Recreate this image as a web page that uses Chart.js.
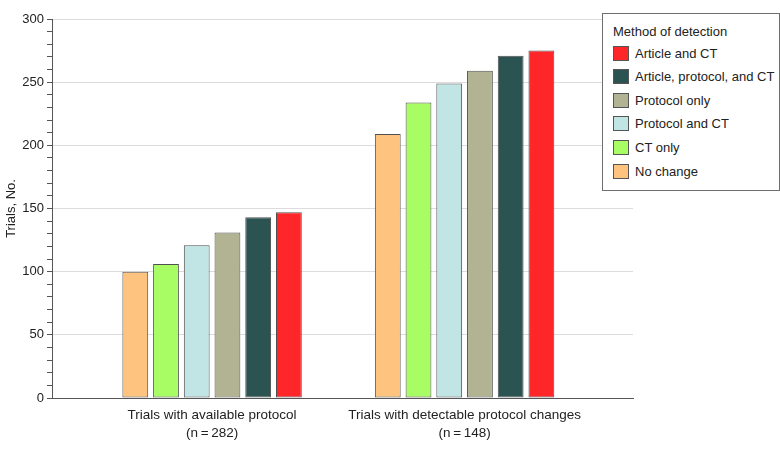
<!DOCTYPE html>
<html>
<head>
<meta charset="utf-8">
<script src="https://cdn.jsdelivr.net/npm/chart.js@4.4.1/dist/chart.umd.min.js"></script>
<style>
  html, body { margin: 0; padding: 0; background: #fff; }
  #wrap { position: relative; width: 780px; height: 450px; }
  #legend { position: absolute; left: 602px; top: 13px; width: 176px; height: 176px;
    border: 1px solid #6e6e6e; background: #fff; font-family: "Liberation Sans", Arial, sans-serif;
    font-size: 13px; color: #222; }
  #legend .title { position: absolute; left: 10px; top: 10px; line-height: 16px; white-space: nowrap; }
  #legend .row { position: absolute; left: 10px; height: 16px; white-space: nowrap; }
  #legend .sw { position: absolute; left: 0; top: 0; width: 14px; height: 13px; border: 1px solid #555; }
  #legend .lab { position: absolute; left: 22px; top: 0; line-height: 16px; }
</style>
</head>
<body>
<div id="wrap">
  <canvas id="c" width="780" height="450"></canvas>
  <div id="legend"></div>
</div>
<script>
// ---- Data ----
const categories = [
  ['Trials with available protocol', '(n\u2009=\u2009282)'],
  ['Trials with detectable protocol changes', '(n\u2009=\u2009148)']
];
const seriesNames = ['No change', 'CT only', 'Protocol and CT', 'Protocol only', 'Article, protocol, and CT', 'Article and CT'];
const noChange = [100, 209];
const ctOnly = [106, 234];
const protocolAndCT = [121, 249];
const protocolOnly = [131, 259];
const articleProtocolCT = [143, 271];
const articleAndCT = [147, 275];
const yTickLabels = [0, 50, 100, 150, 200, 250, 300];
const legendTitle = 'Method of detection';
const yTitle = 'Trials, No.';

// ---- Styles ----
const seriesColors = ['#FEC47F', '#A8FC64', '#C1E5E5', '#B2B393', '#2A5352', '#FE2628'];
const FONT = '"Liberation Sans", Arial, sans-serif';

const seriesValues = [noChange, ctOnly, protocolAndCT, protocolOnly, articleProtocolCT, articleAndCT];

const datasets = seriesNames.map((name, s) => ({
  label: name,
  data: seriesValues[s].map((v, i) => ({ x: i, y: v })),
  backgroundColor: seriesColors[s],
  borderColor: '#505050',
  borderWidth: 1,
  borderSkipped: false,
  barPercentage: 0.84,
  categoryPercentage: 0.73
}));

new Chart(document.getElementById('c'), {
  type: 'bar',
  data: { datasets },
  options: {
    responsive: false,
    animation: false,
    layout: { padding: { left: 0, right: 147, top: 19, bottom: 0 } },
    plugins: { legend: { display: false }, tooltip: { enabled: false } },
    scales: {
      x: {
        type: 'linear',
        offset: false,
        min: -0.634,
        max: 1.667,
        bounds: 'data',
        afterBuildTicks: (s) => { s.ticks = categories.map((c, i) => ({ value: i })); },
        afterFit: (s) => { s.height = 52; },
        grid: { display: false, drawTicks: false, offset: false },
        border: { display: true, color: '#555', width: 1 },
        ticks: {
          autoSkip: false, maxRotation: 0, padding: 8,
          color: '#222',
          font: { family: FONT, size: 13.5, lineHeight: 1.35 },
          callback: (v) => categories[v]
        }
      },
      y: {
        min: 0,
        max: 300,
        afterFit: (s) => { s.width = 52; },
        ticks: {
          stepSize: 10,
          autoSkip: false,
          color: '#222',
          padding: 3,
          font: { family: FONT, size: 13 },
          callback: (v) => (yTickLabels.includes(v) ? String(v) : '')
        },
        grid: {
          color: (ctx) => (ctx.tick && ctx.tick.value !== 0 && yTickLabels.includes(ctx.tick.value) ? '#dcdcdc' : 'rgba(0,0,0,0)'),
          tickColor: '#555',
          tickLength: 5,
          lineWidth: 1
        },
        border: { display: true, color: '#555', width: 1 },
        title: {
          display: true, text: yTitle, color: '#222',
          font: { family: FONT, size: 13 }, padding: { top: 4, bottom: 4 }
        }
      }
    }
  }
});

// ---- HTML legend (reverse order of series) ----
const leg = document.getElementById('legend');
const t = document.createElement('div');
t.className = 'title';
t.textContent = legendTitle;
leg.appendChild(t);
const order = seriesNames.map((n, i) => i).reverse();
order.forEach((s, k) => {
  const row = document.createElement('div');
  row.className = 'row';
  row.style.top = (31.5 + k * 23.6) + 'px';
  const sw = document.createElement('div');
  sw.className = 'sw';
  sw.style.background = seriesColors[s];
  const lab = document.createElement('div');
  lab.className = 'lab';
  lab.textContent = seriesNames[s];
  row.appendChild(sw);
  row.appendChild(lab);
  leg.appendChild(row);
});
</script>
</body>
</html>
